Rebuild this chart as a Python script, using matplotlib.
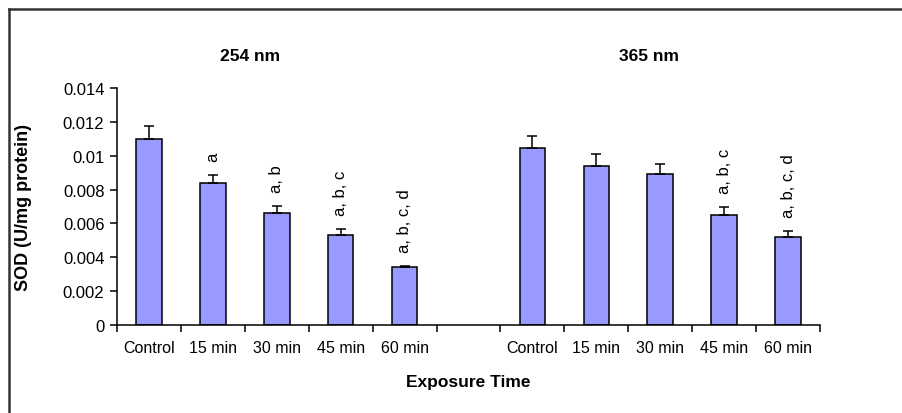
import matplotlib.pyplot as plt
import numpy as np
from matplotlib.lines import Line2D

plt.rcParams['font.family'] = ['Liberation Sans', 'DejaVu Sans']

categories = ['Control', '15 min', '30 min', '45 min', '60 min']
groups = ['254 nm', '365 nm']
sod_254 = [0.0110, 0.0084, 0.0066, 0.0053, 0.0034]
err_254 = [0.00075, 0.00047, 0.00045, 0.00035, 0.0001]
sod_365 = [0.01045, 0.0094, 0.0089, 0.0065, 0.0052]
err_365 = [0.0007, 0.0007, 0.0006, 0.00045, 0.00035]
letters_254 = ['', 'a', 'a, b', 'a, b, c', 'a, b, c, d']
letters_365 = ['', '', '', 'a, b, c', 'a, b, c, d']

fig = plt.figure(figsize=(9.02, 4.14), dpi=100)
ax = fig.add_axes([0.1297, 0.2126, 0.7794, 0.5725])

# chart frame (left and top edges only, rest runs off the picture)
fig.add_artist(Line2D([9/902, 9/902], [0, 1 - 10/414], transform=fig.transFigure,
                      color='#333333', lw=1.8))
fig.add_artist(Line2D([9/902, 1], [1 - 10/414, 1 - 10/414], transform=fig.transFigure,
                      color='#333333', lw=1.8))

x1 = np.arange(5)
x2 = np.arange(5) + 6
for xs, vals, errs, letters in [(x1, sod_254, err_254, letters_254),
                                (x2, sod_365, err_365, letters_365)]:
    ax.bar(xs, vals, width=0.4, color='#9999FF', edgecolor='black', lw=1.1, zorder=2)
    ax.errorbar(xs, vals, yerr=[np.zeros(5), errs], fmt='none', ecolor='black',
                elinewidth=1.1, capsize=3.5, capthick=1.1, zorder=3)
    for x, v, e, t in zip(xs, vals, errs, letters):
        if t:
            ax.annotate(t, (x, v + e), xytext=(0, 10), textcoords='offset points',
                        rotation=90, ha='center', va='bottom', fontsize=12)

ax.set_xlim(-0.5, 10.5)
ax.set_ylim(0, 0.014)
ax.set_yticks(np.arange(0, 0.0141, 0.002))
ax.set_yticklabels(['0', '0.002', '0.004', '0.006', '0.008', '0.01', '0.012', '0.014'])
ax.set_xticks(np.arange(-0.5, 11, 1))
ax.set_xticklabels([])
ax.set_xticks(list(x1) + list(x2), minor=True)
ax.set_xticklabels(categories + categories, minor=True)
ax.tick_params(axis='x', which='minor', length=0, pad=11, labelsize=11.5)
ax.tick_params(axis='x', which='major', length=5, width=1.1)
ax.tick_params(axis='y', length=5, width=1.1, labelsize=12, pad=4)

for s in ['top', 'right']:
    ax.spines[s].set_visible(False)
for s in ['left', 'bottom']:
    ax.spines[s].set_linewidth(1.1)

ax.text(1.58, 1.135, groups[0], transform=ax.get_xaxis_transform(),
        ha='center', va='center', fontsize=12.5, fontweight='bold')
ax.text(7.83, 1.135, groups[1], transform=ax.get_xaxis_transform(),
        ha='center', va='center', fontsize=12.5, fontweight='bold')

ax.set_ylabel('SOD (U/mg protein)', fontsize=13, fontweight='bold')
ax.yaxis.set_label_coords(-0.121, 0.5)
ax.set_xlabel('Exposure Time', fontsize=12.5, fontweight='bold')
ax.xaxis.set_label_coords(0.5, -0.205)

fig.savefig('out.png', dpi=100)
